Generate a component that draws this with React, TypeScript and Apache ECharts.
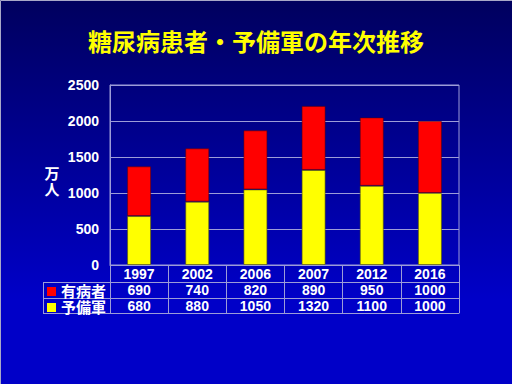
import React, { useEffect, useRef } from "react";
import * as echarts from "echarts";

const years = ["1997", "2002", "2006", "2007", "2012", "2016"];
const patients = [690, 740, 820, 890, 950, 1000];
const prediabetes = [680, 880, 1050, 1320, 1100, 1000];
const seriesNames = ["有病者", "予備軍"];
const seriesColors = ["#ff0000", "#ffff00"];
const yMin = 0;
const yMax = 2500;
const yInterval = 500;
const titleText = "糖尿病患者・予備軍の年次推移";
const unitChars = ["万", "人"];

const LINE = "#9c9cd8";
const NUM_FONT = "'Liberation Sans', Arial, sans-serif";
const CJK_FONT = "'Noto Sans CJK JP', sans-serif";

export default function App() {
  const ref = useRef<HTMLDivElement>(null);
  useEffect(() => {
    if (!ref.current) return;
    const chart = echarts.init(ref.current, null, { renderer: "svg" });
    const labelStyle = {
      color: "#ffffff",
      fontFamily: NUM_FONT,
      fontWeight: "bold" as const,
      fontSize: 14,
      lineHeight: 14,
    };
    const tableAxis = (vals: number[], offset: number, showLabel: boolean) => ({
      type: "category" as const,
      gridIndex: 0,
      position: "bottom" as const,
      offset,
      data: vals.map(String),
      axisLine: { show: true, lineStyle: { color: LINE, width: 1 } },
      axisTick: { show: false },
      axisLabel: { show: showLabel, margin: 1, interval: 0, ...labelStyle },
      splitLine: { show: false },
    });
    const legendRows = [
      { name: seriesNames[0], color: seriesColors[0], y: 282 },
      { name: seriesNames[1], color: seriesColors[1], y: 298 },
    ];
    chart.setOption({
      animation: false,
      title: {
        text: titleText,
        left: "center",
        top: 27,
        padding: 0,
        textStyle: {
          color: "#ffff00",
          fontSize: 24,
          fontWeight: "bold",
          fontFamily: CJK_FONT,
          lineHeight: 26,
          textShadowColor: "rgba(0,0,30,0.8)",
          textShadowOffsetX: 1,
          textShadowOffsetY: 1,
          textShadowBlur: 0,
        },
      },
      grid: {
        left: 110,
        top: 85,
        width: 349,
        height: 180,
        show: true,
        borderColor: LINE,
        borderWidth: 1,
        backgroundColor: "transparent",
      },
      xAxis: [
        {
          type: "category",
          data: years,
          position: "bottom",
          axisLine: { show: true, lineStyle: { color: LINE, width: 1 } },
          axisTick: {
            show: true,
            length: 48,
            interval: 0,
            alignWithLabel: false,
            lineStyle: { color: LINE, width: 1 },
          },
          axisLabel: { margin: 2, interval: 0, ...labelStyle },
        },
        tableAxis(patients, 17, true),
        tableAxis(prediabetes, 33, true),
        tableAxis(prediabetes, 48, false),
      ],
      yAxis: {
        type: "value",
        min: yMin,
        max: yMax,
        interval: yInterval,
        axisLine: { show: true, lineStyle: { color: LINE, width: 1 } },
        axisTick: { show: false },
        axisLabel: { margin: 11, ...labelStyle, formatter: (v: number) => String(v) },
        splitLine: { show: true, lineStyle: { color: LINE, width: 1 } },
      },
      series: [
        {
          name: seriesNames[1],
          type: "bar",
          stack: "total",
          data: prediabetes,
          barWidth: 24,
          itemStyle: { color: seriesColors[1], borderColor: "rgba(90,90,0,0.6)", borderWidth: 1 },
        },
        {
          name: seriesNames[0],
          type: "bar",
          stack: "total",
          data: patients,
          barWidth: 24,
          itemStyle: { color: seriesColors[0], borderColor: "rgba(90,0,0,0.5)", borderWidth: 1 },
        },
      ],
      graphic: [
        {
          type: "rect",
          z: -10,
          silent: true,
          shape: { x: 0, y: 0, width: 512, height: 384 },
          style: {
            fill: new echarts.graphic.LinearGradient(0, 0, 0, 1, [
              { offset: 0, color: "#00005e" },
              { offset: 0.78, color: "#0000c8" },
              { offset: 1, color: "#0000c8" },
            ]),
          },
        },
        {
          type: "polyline",
          z: 10,
          silent: true,
          shape: { points: [[0.5, 384], [0.5, 0.5], [512, 0.5]] },
          style: { stroke: "#a8a8c8", lineWidth: 1, fill: "none" },
        },
        ...unitChars.map((c, i) => ({
          type: "text",
          x: 52,
          y: 172 + i * 16,
          style: {
            text: c,
            fill: "#ffffff",
            font: `bold 15px ${CJK_FONT}`,
            align: "center",
            verticalAlign: "middle",
          },
        })),
        ...[282, 298, 313].map((y) => ({
          type: "line",
          silent: true,
          shape: { x1: 43, y1: y + 0.5, x2: 110, y2: y + 0.5 },
          style: { stroke: LINE, lineWidth: 1 },
        })),
        {
          type: "line",
          silent: true,
          shape: { x1: 43.5, y1: 282, x2: 43.5, y2: 313.5 },
          style: { stroke: LINE, lineWidth: 1 },
        },
        ...legendRows.flatMap((r) => [
          {
            type: "rect",
            shape: { x: 47, y: r.y + 5, width: 9, height: 9 },
            style: { fill: r.color },
          },
          {
            type: "text",
            x: 61,
            y: r.y + 8.5,
            style: {
              text: r.name,
              fill: "#ffffff",
              font: `bold 15px ${CJK_FONT}`,
              lineHeight: 15,
              align: "left",
              verticalAlign: "middle",
            },
          },
        ]),
      ],
    });
    return () => chart.dispose();
  }, []);
  return (
    <div
      ref={ref}
      style={{ position: "absolute", left: 0, top: 0, width: 512, height: 384 }}
    />
  );
}
